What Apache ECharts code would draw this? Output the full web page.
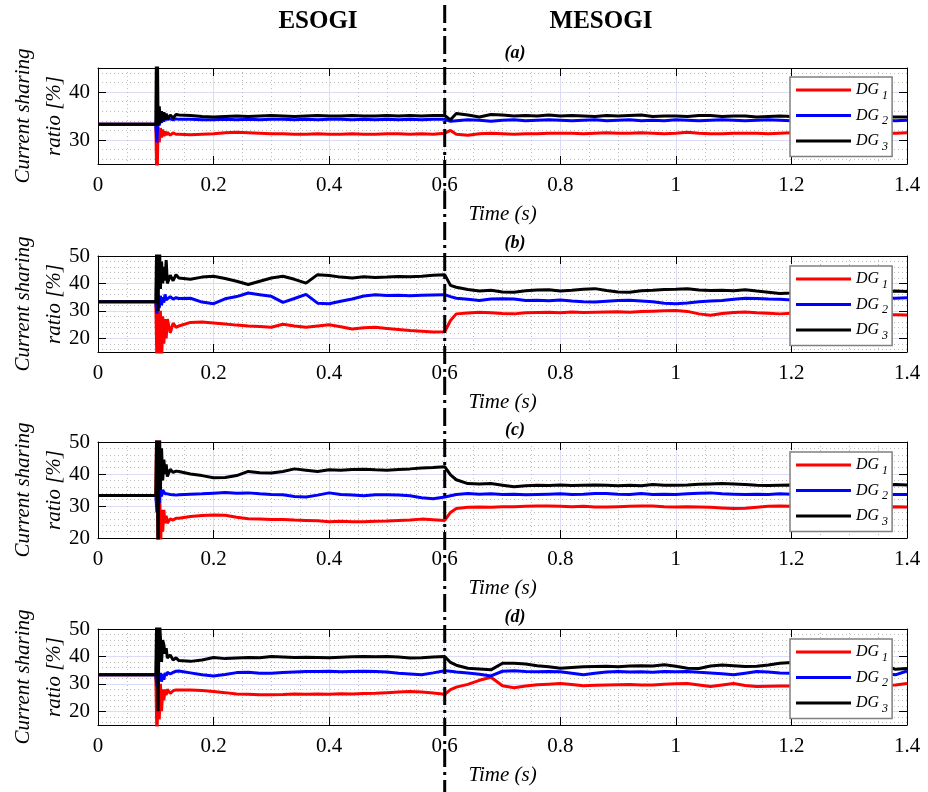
<!DOCTYPE html>
<html>
<head>
<meta charset="utf-8">
<script src="https://cdn.jsdelivr.net/npm/echarts@6/dist/echarts.min.js"></script>
<style>
html,body{margin:0;padding:0;background:#fff;}
#chart{width:928px;height:792px;}
</style>
</head>
<body>
<div id="chart"></div>
<script>
// shared time base (s)
var time = [0, 0.1, 0.102, 0.104, 0.106, 0.108, 0.11, 0.112, 0.114, 0.116, 0.118, 0.12, 0.125, 0.13, 0.135, 0.14,
	0.16, 0.18, 0.2, 0.22, 0.24, 0.26, 0.28, 0.3, 0.32, 0.34, 0.36, 0.38, 0.4, 0.42, 0.44, 0.46, 0.48, 0.5, 0.52, 0.54, 0.56, 0.58, 0.6,
	0.61,
	0.62, 0.64, 0.66, 0.68, 0.7, 0.72, 0.74, 0.76, 0.78, 0.8, 0.82, 0.84, 0.86, 0.88, 0.9, 0.92, 0.94, 0.96, 0.98, 1.0,
	1.02, 1.04, 1.06, 1.08, 1.1, 1.12, 1.14, 1.16, 1.18, 1.2, 1.22, 1.24, 1.26, 1.28, 1.3, 1.32, 1.34, 1.36, 1.38, 1.4];

// (a)
var aRed = [33.3, 33.3, 20, 32.8, 29.5, 32.5, 30.5, 32.2, 30.8, 31.8, 31.0, 31.6, 31.0, 31.5, 31.2, 31.2,
	31.1, 31.2, 31.3, 31.5, 31.6, 31.5, 31.4, 31.3, 31.3, 31.2, 31.2, 31.3, 31.2, 31.2, 31.3, 31.2, 31.2, 31.3, 31.3, 31.2, 31.3, 31.2, 31.4,
	32.0,
	31.2, 31.0, 31.3, 31.4, 31.3, 31.2, 31.3, 31.3, 31.4, 31.4, 31.4, 31.3, 31.4, 31.5, 31.4, 31.4, 31.5, 31.4, 31.3, 31.4,
	31.6, 31.4, 31.3, 31.3, 31.4, 31.4, 31.4, 31.3, 31.4, 31.5, 31.5, 31.4, 31.5, 31.5, 31.4, 31.5, 31.5, 31.4, 31.4, 31.5];
var aBlue = [33.3, 33.3, 29.5, 35.0, 33.0, 34.8, 33.6, 34.6, 33.9, 34.4, 34.0, 34.3, 34.4, 34.2, 34.4, 34.3,
	34.3, 34.2, 34.2, 34.3, 34.2, 34.3, 34.2, 34.3, 34.3, 34.2, 34.3, 34.2, 34.3, 34.3, 34.2, 34.3, 34.2, 34.3, 34.2, 34.3, 34.2, 34.3, 34.3,
	33.9,
	34.0, 34.2, 34.1, 33.9, 34.1, 34.2, 34.0, 34.1, 34.2, 34.1, 34.0, 34.1, 34.2, 34.0, 34.1, 34.2, 34.0, 34.1, 34.0, 34.2,
	34.1, 34.0, 34.1, 34.2, 34.1, 34.0, 34.1, 34.2, 34.1, 34.0, 34.1, 34.2, 34.1, 34.1, 34.0, 34.1, 34.2, 34.1, 34.0, 34.1];
var aBlack = [33.3, 33.3, 60, 33.0, 37.0, 33.5, 36.0, 34.0, 35.8, 34.2, 35.5, 34.3, 35.2, 34.6, 35.3, 35.2,
	35.1, 34.9, 34.8, 34.9, 35.0, 34.9, 35.0, 35.1, 35.0, 34.9, 35.0, 35.1, 35.0, 35.0, 35.1, 35.0, 35.0, 35.1, 35.0, 35.1, 35.0, 35.1, 35.1,
	34.2,
	35.5, 35.2, 34.8, 35.3, 35.2, 35.0, 35.1, 35.0, 35.2, 35.0, 35.1, 35.0, 34.9, 35.1, 35.0, 35.1, 35.2, 34.9, 35.0, 35.0,
	34.9, 35.1, 35.1, 34.9, 35.0, 35.0, 34.8, 34.9, 35.0, 34.9, 34.8, 34.9, 35.0, 34.9, 34.8, 34.9, 34.8, 34.9, 34.8, 34.8];

// (b)
var bRed = [33.3, 33.3, 10, 32, 10, 30, 10, 28, 18, 27, 20, 27, 22, 25.5, 24, 24.5,
	25.8, 25.9, 25.6, 25.2, 24.8, 24.5, 24.3, 24.0, 25.1, 24.5, 24.0, 24.5, 24.9, 24.2, 23.4, 23.8, 24.0, 23.6, 23.2, 22.8, 22.6, 22.3, 22.4,
	26.5,
	28.9, 29.2, 29.5, 29.3, 29.0, 28.9, 29.3, 29.4, 29.5, 29.3, 29.6, 29.4, 29.5, 29.6, 29.7, 29.5, 29.8, 29.9, 30.0, 30.1,
	29.8, 28.9, 28.4, 29.0, 29.4, 29.6, 29.3, 29.1, 28.9, 29.1, 29.3, 29.2, 29.0, 29.1, 28.9, 28.8, 28.9, 28.7, 28.6, 28.5];
var bBlue = [33.3, 33.3, 29, 36, 31, 35.5, 32, 35, 33, 36, 34, 34.5, 35.2, 34.3, 34.8, 34.5,
	34.6, 33.2, 32.6, 34.4, 35.2, 36.5, 35.9, 35.3, 33.1, 34.5, 36.0, 32.8, 32.6, 33.5, 34.3, 35.4, 35.9, 35.6, 35.7, 35.5, 35.7, 35.8, 35.9,
	35.2,
	34.6, 34.2, 33.8, 34.3, 34.4, 34.3, 33.8, 33.9, 33.7, 34.0, 33.6, 33.3, 33.2, 33.5, 33.8, 33.9, 33.6, 33.3, 32.8, 32.6,
	32.9, 33.3, 33.6, 33.8, 34.2, 34.6, 34.5, 34.3, 34.2, 34.0, 34.2, 34.4, 34.3, 34.5, 34.6, 34.4, 34.6, 34.7, 34.6, 34.8];
var bBlack = [33.3, 33.3, 60, 30, 60, 38, 48, 40, 46, 41, 48.5, 40, 43, 41, 43.2, 42,
	41.5, 42.3, 42.6, 41.8, 40.8, 39.6, 40.8, 42.0, 42.6, 41.5, 40.1, 43.2, 42.9, 42.3, 42.0, 42.4, 42.2, 42.3, 42.5, 42.4, 42.6, 43.0, 43.2,
	39.3,
	38.6, 37.8, 37.2, 37.5, 36.9, 36.8, 37.3, 37.6, 37.7, 37.2, 37.5, 37.9, 38.1, 37.4, 36.9, 36.8, 37.3, 37.5, 37.8, 37.9,
	38.1, 37.6, 37.4, 37.5, 37.3, 37.7, 37.2, 36.8, 36.3, 36.5, 36.8, 37.0, 37.2, 36.9, 37.0, 37.3, 37.0, 36.9, 37.2, 37.1];

// (c)
var cRed = [33.3, 33.3, 60, 10, 55, 15, 28.8, 22, 28.8, 24.6, 27, 24.6, 26, 25.6, 26.2, 26.2,
	26.7, 27.0, 27.2, 27.1, 26.5, 26.0, 25.9, 25.8, 25.8, 25.6, 25.5, 25.4, 25.1, 25.2, 25.1, 25.1, 25.2, 25.3, 25.5, 25.6, 25.9, 25.7, 25.5,
	28.0,
	29.2, 29.6, 29.7, 29.6, 29.8, 29.8, 29.9, 30.0, 30.0, 29.9, 29.8, 29.9, 29.7, 29.7, 29.8, 29.9, 30.0, 30.0, 29.8, 29.7,
	29.8, 29.7, 29.6, 29.4, 29.2, 29.3, 29.6, 29.9, 30.0, 29.9, 29.8, 29.7, 29.8, 29.7, 29.8, 29.7, 29.8, 29.7, 29.8, 29.7];
var cBlue = [33.3, 33.3, 28, 37, 31, 35.5, 33, 35, 34.5, 33.8, 34.2, 33.8, 33.6, 33.5, 33.4, 33.5,
	33.7, 33.8, 34.0, 34.2, 34.0, 34.1, 33.8, 33.6, 33.5, 33.0, 32.8, 33.4, 34.1, 33.6, 33.4, 33.2, 33.5, 33.5, 33.4, 33.2, 32.6, 32.3, 32.8,
	33.2,
	33.6, 33.9, 33.7, 33.8, 33.6, 33.7, 33.5, 33.6, 33.7, 33.8, 33.6, 33.7, 33.9, 33.9, 33.7, 33.6, 33.9, 33.6, 33.7, 33.6,
	33.8, 34.0, 34.1, 33.8, 33.7, 33.6, 33.7, 33.6, 33.8, 33.7, 33.6, 33.7, 33.8, 33.6, 33.7, 33.5, 33.6, 33.7, 33.6, 33.6];
var cBlack = [33.3, 33.3, 60, 10, 60, 35, 48, 38, 44.5, 40, 43, 39.2, 41.5, 40.5, 40.9, 40.8,
	40.0, 39.5, 38.8, 38.9, 39.5, 40.8, 40.4, 40.3, 40.8, 41.6, 41.2, 40.8, 41.3, 41.2, 41.4, 41.5, 41.3, 41.2, 41.4, 41.6, 41.9, 42.0, 42.3,
	39.7,
	38.2, 37.0, 36.9, 37.0, 36.5, 36.0, 36.3, 36.5, 36.4, 36.6, 36.4, 36.5, 36.6, 36.5, 36.3, 36.5, 36.3, 36.7, 36.5, 36.5,
	36.6, 36.8, 36.9, 37.0, 36.9, 36.7, 36.5, 36.4, 36.5, 36.6, 36.5, 36.7, 36.6, 36.5, 36.6, 36.7, 36.6, 36.5, 36.7, 36.6];

// (d)
var dRed = [33.3, 33.3, 10, 31.4, 17, 30, 20, 28, 24, 28, 26, 28, 26.5, 27.5, 27.8, 27.8,
	27.8, 27.6, 27.2, 26.8, 26.3, 26.2, 26.0, 26.0, 26.1, 26.3, 26.2, 26.3, 26.2, 26.4, 26.3, 26.5, 26.6, 26.8, 27.0, 27.2, 27.0, 26.7, 26.2,
	27.9,
	28.8, 29.8, 31.3, 32.4, 29.3, 28.6, 29.2, 29.7, 29.9, 30.1, 29.8, 29.3, 29.5, 29.6, 29.7, 29.8, 29.6, 29.6, 29.9, 30.0,
	30.1, 29.6, 29.0, 29.6, 30.1, 29.4, 29.0, 29.1, 29.2, 29.2, 29.4, 29.6, 29.5, 29.4, 29.6, 29.5, 29.7, 29.5, 29.6, 30.1];
var dBlue = [33.3, 33.3, 29, 34.5, 31, 34, 30.8, 33.5, 31.5, 34, 33, 34.2, 33.6, 34.2, 34.6, 34.7,
	34.0, 33.3, 32.9, 33.4, 34.1, 34.2, 33.9, 33.9, 34.1, 34.3, 34.5, 34.5, 34.6, 34.4, 34.5, 34.6, 34.5, 34.3, 33.9, 33.6, 33.3, 34.0, 34.8,
	34.6,
	34.3, 34.0, 33.5, 32.9, 34.6, 34.8, 34.5, 34.4, 34.5, 34.4, 33.9, 33.3, 33.9, 34.3, 34.5, 34.3, 34.4, 34.2, 34.5, 34.4,
	34.5, 34.2, 34.0, 33.7, 33.3, 33.9, 34.5, 34.3, 34.0, 33.9, 34.0, 34.2, 34.1, 34.0, 33.9, 34.1, 34.0, 33.8, 33.3, 34.7];
var dBlack = [33.3, 33.3, 60, 20, 55, 47, 38, 46, 44.2, 41, 43, 39.4, 40.5, 38.7, 39.5, 38.5,
	38.2, 38.7, 39.6, 39.2, 39.4, 39.6, 39.5, 40.0, 39.8, 39.6, 39.7, 39.6, 39.5, 39.7, 39.9, 40.0, 39.9, 40.0, 39.8, 39.4, 39.5, 39.8, 40.0,
	37.8,
	36.8, 35.7, 35.4, 35.1, 37.5, 37.5, 37.2, 36.6, 36.2, 35.7, 36.0, 36.2, 36.3, 36.4, 36.2, 36.5, 36.6, 36.5, 37.0, 36.4,
	35.7, 35.6, 36.5, 36.9, 36.6, 36.3, 36.4, 36.9, 37.5, 37.8, 37.6, 37.4, 37.6, 37.2, 36.9, 37.1, 37.4, 37.0, 35.3, 35.6];

var seriesNames = ['DG1', 'DG2', 'DG3'];
var seriesColors = ['#ff0000', '#0000ff', '#000000'];
var switchTime = 0.6;

var panels = [
	{tag: '(a)', top: 68, tagY: 53, ymin: 25, ymax: 45, major: [30, 40], minor: [26, 28, 32, 34, 36, 38, 42, 44], lines: [aRed, aBlue, aBlack], legendTop: 77},
	{tag: '(b)', top: 256, tagY: 243, ymin: 15, ymax: 50, major: [20, 30, 40, 50], minor: [16, 18, 22, 24, 26, 28, 32, 34, 36, 38, 42, 44, 46, 48], lines: [bRed, bBlue, bBlack], legendTop: 266},
	{tag: '(c)', top: 442, tagY: 430, ymin: 20, ymax: 50, major: [20, 30, 40, 50], minor: [22, 24, 26, 28, 32, 34, 36, 38, 42, 44, 46, 48], lines: [cRed, cBlue, cBlack], legendTop: 452},
	{tag: '(d)', top: 629, tagY: 617, ymin: 15, ymax: 50, major: [20, 30, 40, 50], minor: [16, 18, 22, 24, 26, 28, 32, 34, 36, 38, 42, 44, 46, 48], lines: [dRed, dBlue, dBlack], legendTop: 639}
];

var serif = '"Liberation Serif", "Times New Roman", serif';
var majorGrid = '#dcdcf4';
var minorGrid = '#bcbcbc';

function pairs(xs, ys) {
	return xs.map(function (x, i) { return [x, ys[i]]; });
}

var grid = [], xAxis = [], yAxis = [], series = [], legend = [];

panels.forEach(function (p, i) {
	grid.push({left: 98, right: 21, top: p.top, height: 96, containLabel: false, outerBoundsMode: 'none'});

	// bottom axis: labels, ticks, major + minor grid
	xAxis.push({
		gridIndex: i, type: 'value', min: 0, max: 1.4, interval: 0.2, position: 'bottom',
		axisLine: {show: true, onZero: false, lineStyle: {color: '#000', width: 1}},
		axisTick: {show: true, inside: true, length: 8, lineStyle: {color: '#000'}},
		axisLabel: {margin: 11, color: '#000', fontFamily: serif, fontSize: 21},
		splitLine: {show: true, lineStyle: {color: majorGrid, width: 1}},
		minorTick: {show: false, splitNumber: 4},
		minorSplitLine: {show: true, lineStyle: {color: minorGrid, width: 1, type: [1, 3]}},
		name: 'Time (s)', nameLocation: 'middle', nameGap: 40, nameMoveOverlap: false,
		nameTextStyle: {color: '#000', fontFamily: serif, fontSize: 21, fontStyle: 'italic'}
	});
	// top axis: box + ticks
	xAxis.push({
		gridIndex: i, type: 'value', min: 0, max: 1.4, interval: 0.2, position: 'top',
		axisLine: {show: true, onZero: false, lineStyle: {color: '#000', width: 1}},
		axisTick: {show: true, inside: true, length: 8, lineStyle: {color: '#000'}},
		axisLabel: {show: false},
		splitLine: {show: false}
	});

	yAxis.push({
		gridIndex: i, type: 'value', min: p.ymin, max: p.ymax, position: 'left',
		axisLine: {show: true, onZero: false, lineStyle: {color: '#000', width: 1}},
		axisTick: {show: true, inside: true, length: 8, customValues: p.major, lineStyle: {color: '#000'}},
		axisLabel: {margin: 8, customValues: p.major, color: '#000', fontFamily: serif, fontSize: 21},
		splitLine: {show: true, lineStyle: {color: majorGrid, width: 1}},
		name: 'Current sharing\nratio [%]', nameLocation: 'middle', nameGap: 28, nameRotate: 90, nameMoveOverlap: false,
		nameTextStyle: {color: '#000', fontFamily: serif, fontSize: 21, fontStyle: 'italic', lineHeight: 31}
	});
	yAxis.push({
		gridIndex: i, type: 'value', min: p.ymin, max: p.ymax, position: 'right',
		axisLine: {show: true, onZero: false, lineStyle: {color: '#000', width: 1}},
		axisTick: {show: true, inside: true, length: 8, customValues: p.major, lineStyle: {color: '#000'}},
		axisLabel: {show: false},
		splitLine: {show: false}
	});
	// dotted minor grid only
	yAxis.push({
		gridIndex: i, type: 'value', min: p.ymin, max: p.ymax, position: 'left',
		axisLine: {show: false},
		axisTick: {show: false, customValues: p.minor},
		axisLabel: {show: false},
		splitLine: {show: true, lineStyle: {color: minorGrid, width: 1, type: [1, 3]}}
	});

	p.lines.forEach(function (vals, k) {
		series.push({
			type: 'line', name: seriesNames[k],
			xAxisIndex: 2 * i, yAxisIndex: 3 * i,
			data: pairs(time, vals),
			symbol: 'none', showSymbol: false,
			lineStyle: {color: seriesColors[k], width: 3},
			itemStyle: {color: seriesColors[k]},
			clip: true, animation: false
		});
	});

	legend.push({
		orient: 'vertical', left: 790, top: p.legendTop,
		icon: 'rect', itemWidth: 55, itemHeight: 3, itemGap: 6,
		padding: [5, 4, 4, 6],
		backgroundColor: '#fff', borderColor: '#808080', borderWidth: 1.5,
		selectedMode: false,
		data: seriesNames,
		formatter: function (name) {
			return '{a|DG}{b|' + name.slice(2) + '}';
		},
		textStyle: {
			color: '#000',
			rich: {
				a: {fontFamily: serif, fontSize: 16, fontStyle: 'italic', color: '#000'},
				b: {fontFamily: serif, fontSize: 12, fontStyle: 'italic', color: '#000', padding: [11, 0, 0, 3]}
			}
		}
	});
});

var chart = echarts.init(document.getElementById('chart'), null, {renderer: 'canvas'});

var option = {
	backgroundColor: '#fff',
	animation: false,
	grid: grid,
	xAxis: xAxis,
	yAxis: yAxis,
	legend: legend,
	series: series
};
chart.setOption(option);

// annotations: headings, panel tags, switching instant
var xs = chart.convertToPixel({xAxisIndex: 0}, switchTime);
var graphics = [
	{type: 'text', x: 318, y: 22, z: 50, style: {text: 'ESOGI', font: 'bold 25px ' + serif, fill: '#000', textAlign: 'center', textVerticalAlign: 'middle'}},
	{type: 'text', x: 601, y: 22, z: 50, style: {text: 'MESOGI', font: 'bold 25px ' + serif, fill: '#000', textAlign: 'center', textVerticalAlign: 'middle'}},
	{type: 'line', z: 40, shape: {x1: xs, y1: 5, x2: xs, y2: 792}, style: {stroke: '#000', lineWidth: 3, lineDash: [18, 5, 3, 5]}}
];
panels.forEach(function (p) {
	graphics.push({type: 'text', x: 515, y: p.tagY, z: 50, style: {text: p.tag, font: 'italic bold 18px ' + serif, fill: '#000', textAlign: 'center', textVerticalAlign: 'middle'}});
});
chart.setOption({graphic: graphics});
</script>
</body>
</html>
